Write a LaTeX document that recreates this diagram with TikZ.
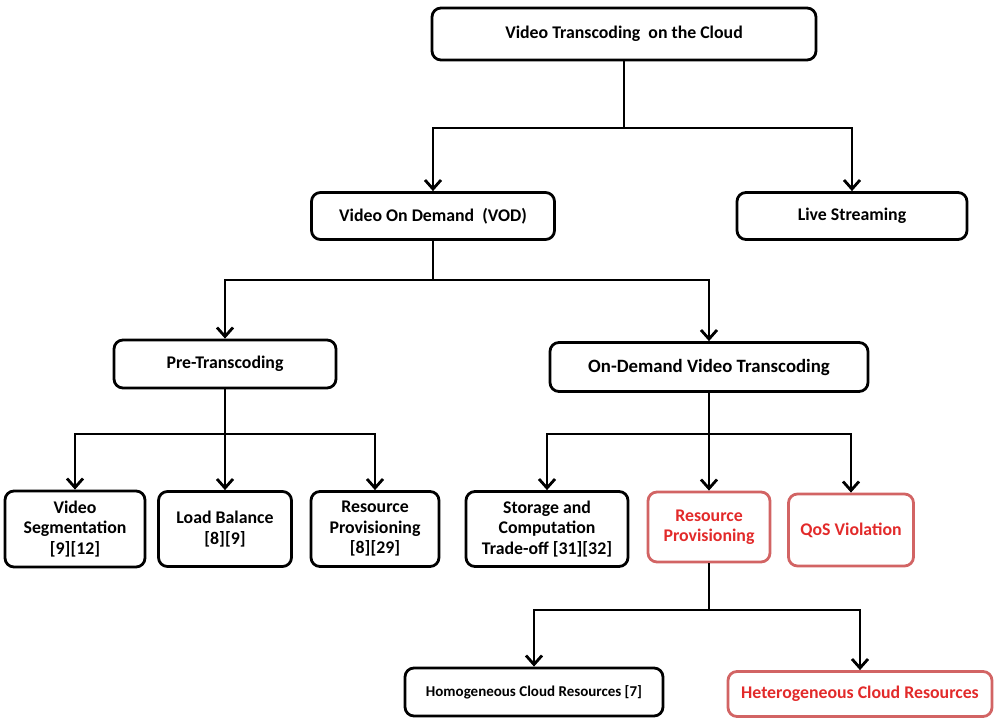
\documentclass[tikz,border=0pt]{standalone}
\usepackage{fontspec}
\setmainfont{Carlito}
\usetikzlibrary{arrows.meta}

\definecolor{textoRojo}{RGB}{226,42,42}
\definecolor{bordeRojo}{RGB}{210,100,100}

\tikzset{
  caja/.style={draw, line width=2.8pt, rounded corners=9pt, align=center,
    inner sep=2pt, font=\bfseries\fontsize{17.8}{20.5}\selectfont},
  cajaroja/.style={caja, draw=bordeRojo, text=textoRojo},
  flecha/.style={line width=2.8pt, -{Straight Barb[length=9pt,width=16pt]}}
}

\begin{document}
\begin{tikzpicture}[x=1pt,y=-1pt]
    \useasboundingbox (0,0) rectangle (1005,721);

    % Cajas
    \node[caja, minimum width=384, minimum height=52] (raiz) at (624,34) {Video Transcoding~ on the Cloud};
    \node[caja, minimum width=243, minimum height=47] (vod) at (433,216) {Video On Demand~ (VOD)};
    \node[caja, minimum width=230, minimum height=47] (live) at (852,216) {Live Streaming};
    \node[caja, minimum width=222, minimum height=48] (pre) at (225,364) {Pre-Transcoding};
    \node[caja, minimum width=318, minimum height=49, font=\bfseries\fontsize{18.8}{20.5}\selectfont] (ondem) at (709,367) {On-Demand Video Transcoding};

    % Hojas
    \node[caja, minimum width=140, minimum height=76] (seg) at (75,529) {Video\\Segmentation\\{}[9][12]};
    \node[caja, minimum width=133, minimum height=75] (load) at (225,529) {Load Balance\\{}[8][9]};
    \node[caja, minimum width=128, minimum height=75] (prov) at (375,529) {Resource\\Provisioning\\{}[8][29]};
    \node[caja, minimum width=162, minimum height=75] (stor) at (547,529) {Storage and\\Computation\\Trade-off [31][32]};
    \node[cajaroja, minimum width=122, minimum height=70] (rprov) at (709,527) {Resource\\Provisioning};
    \node[cajaroja, minimum width=125, minimum height=72] (qos) at (851,530) {QoS Violation};
    \node[caja, minimum width=258, minimum height=48, font=\bfseries\fontsize{15}{20.5}\selectfont] (homo) at (534,692) {Homogeneous Cloud Resources [7]};
    \node[cajaroja, minimum width=264, minimum height=45] (hetero) at (860,694) {Heterogeneous Cloud Resources};

    % Barras
    \coordinate (b1) at (0,128);
    \coordinate (b2) at (0,280);
    \coordinate (b3) at (0,434);
    \coordinate (b4) at (0,610);

    % Flechas
    \draw[flecha] (raiz.south) |- (vod.north |- b1) -- (vod.north);
    \draw[flecha] (raiz.south) |- (live.north |- b1) -- (live.north);
    \draw[flecha] (vod.south) |- (pre.north |- b2) -- (pre.north);
    \draw[flecha] (vod.south) |- (ondem.north |- b2) -- (ondem.north);
    \draw[flecha] (pre.south) |- (seg.north |- b3) -- (seg.north);
    \draw[flecha] (pre.south) -- (load.north);
    \draw[flecha] (pre.south) |- (prov.north |- b3) -- (prov.north);
    \draw[flecha] (ondem.south) |- (stor.north |- b3) -- (stor.north);
    \draw[flecha] (ondem.south) -- (rprov.north);
    \draw[flecha] (ondem.south) |- (qos.north |- b3) -- (qos.north);
    \draw[flecha] (rprov.south) |- (homo.north |- b4) -- (homo.north);
    \draw[flecha] (rprov.south) |- (hetero.north |- b4) -- (hetero.north);
\end{tikzpicture}
\end{document}
